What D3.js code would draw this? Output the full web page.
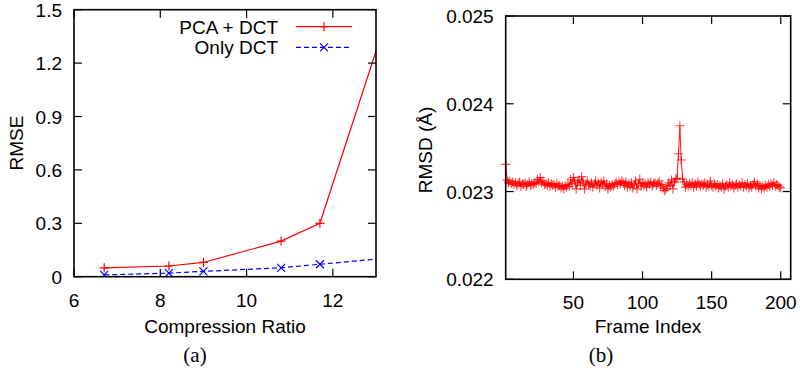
<!DOCTYPE html>
<html>
<head>
<meta charset="utf-8">
<script src="https://cdn.jsdelivr.net/npm/d3@7"></script>
<style>
  body { margin: 0; background: #fff; }
  text { font-family: "Liberation Sans", Arial, sans-serif; }
</style>
</head>
<body>
<svg width="800" height="377"></svg>
<script>
// ---- data (a) ----
var ratio = [6.7, 8.2, 9.0, 10.8, 11.7, 13.3];
var pcaDct = [0.05, 0.06, 0.08, 0.2, 0.3, 1.49];
var onlyDct = [0.01, 0.02, 0.03, 0.05, 0.07, 0.105];
var ticksA_x = [6, 8, 10, 12];
var ticksA_y = [0, 0.3, 0.6, 0.9, 1.2, 1.5];

// ---- data (b) ---- frames 1..200
var rmsd = [
  0.02331,
  0.02313, 0.02310, 0.02312, 0.02309, 0.02311, 0.02308, 0.02310, 0.02307, 0.02309,
  0.02311, 0.02306, 0.02309, 0.02308, 0.02310, 0.02306, 0.02308, 0.02311, 0.02307, 0.02309,
  0.02308, 0.02310, 0.02309, 0.02314, 0.02311, 0.02316, 0.02310, 0.02312, 0.02308, 0.02309,
  0.02307, 0.02310, 0.02306, 0.02309, 0.02307, 0.02308, 0.02305, 0.02309, 0.02306, 0.02307,
  0.02304, 0.02306, 0.02303, 0.02307, 0.02305, 0.02308, 0.02306, 0.02314, 0.02309, 0.02316,
  0.02312, 0.02303, 0.02310, 0.02313, 0.02307, 0.02317, 0.02311, 0.02303, 0.02309, 0.02312,
  0.02308, 0.02306, 0.02310, 0.02305, 0.02309, 0.02312, 0.02307, 0.02310, 0.02304, 0.02311,
  0.02308, 0.02312, 0.02306, 0.02309, 0.02303, 0.02307, 0.02305, 0.02308, 0.02306, 0.02309,
  0.02310, 0.02308, 0.02311, 0.02309, 0.02312, 0.02310, 0.02307, 0.02311, 0.02305, 0.02309,
  0.02306, 0.02310, 0.02304, 0.02308, 0.02312, 0.02303, 0.02309, 0.02314, 0.02306, 0.02310,
  0.02307, 0.02309, 0.02305, 0.02310, 0.02308, 0.02311, 0.02306, 0.02309, 0.02310, 0.02307,
  0.02309, 0.02312, 0.02306, 0.02308, 0.02304, 0.02301, 0.02303, 0.02306, 0.02310, 0.02307,
  0.02313, 0.02303, 0.02311, 0.02314, 0.02315,
  0.02343, 0.02375, 0.02336, 0.02314,
  0.02311, 0.02305, 0.02308, 0.02306, 0.02309, 0.02307, 0.02310, 0.02305, 0.02309, 0.02306, 0.02311,
  0.02308, 0.02306, 0.02309, 0.02307, 0.02310, 0.02305, 0.02308, 0.02306, 0.02312, 0.02307,
  0.02305, 0.02309, 0.02306, 0.02308, 0.02304, 0.02307, 0.02305, 0.02309, 0.02303, 0.02306,
  0.02308, 0.02305, 0.02310, 0.02306, 0.02308, 0.02304, 0.02307, 0.02309, 0.02305, 0.02308,
  0.02306, 0.02310, 0.02305, 0.02308, 0.02306, 0.02309, 0.02304, 0.02307, 0.02305, 0.02308,
  0.02311, 0.02306, 0.02309, 0.02304, 0.02307, 0.02303, 0.02306, 0.02304, 0.02307, 0.02305,
  0.02308, 0.02306, 0.02309, 0.02307, 0.02310, 0.02306, 0.02308, 0.02307, 0.02305, 0.02304
];
var ticksB_x = [50, 100, 150, 200];
var ticksB_y = [0.022, 0.023, 0.024, 0.025];

var svg = d3.select("svg");
var fs = 19;
var tick = 8;

var plus = "M-4.5,0H4.5M0,-4.5V4.5";
var cross = "M-4,-4L4,4M-4,4L4,-4";

// frame + mirrored ticks for one panel
function drawFrame(g, x, y, xt, yt, xfmt, yfmt) {
  var x0 = x.range()[0], x1 = x.range()[1];
  var y0 = y.range()[0], y1 = y.range()[1];

  xt.forEach(function(t) {
    g.append("line").attr("x1", x(t)).attr("x2", x(t)).attr("y1", y0).attr("y2", y0 - tick)
      .attr("stroke", "#000").attr("stroke-width", 1.2);
    g.append("line").attr("x1", x(t)).attr("x2", x(t)).attr("y1", y1).attr("y2", y1 + tick)
      .attr("stroke", "#000").attr("stroke-width", 1.2);
    g.append("text").attr("x", x(t)).attr("y", y0 + 30)
      .attr("text-anchor", "middle").style("font-size", fs + "px").text(xfmt(t));
  });
  yt.forEach(function(t) {
    g.append("line").attr("x1", x0).attr("x2", x0 + tick).attr("y1", y(t)).attr("y2", y(t))
      .attr("stroke", "#000").attr("stroke-width", 1.2);
    g.append("line").attr("x1", x1).attr("x2", x1 - tick).attr("y1", y(t)).attr("y2", y(t))
      .attr("stroke", "#000").attr("stroke-width", 1.2);
    g.append("text").attr("x", x0 - 12).attr("y", y(t) + 7)
      .attr("text-anchor", "end").style("font-size", fs + "px").text(yfmt(t));
  });

  g.append("rect")
    .attr("x", x0).attr("y", y1)
    .attr("width", x1 - x0).attr("height", y0 - y1)
    .attr("fill", "none").attr("stroke", "#000").attr("stroke-width", 1.6);
}

/////////////////////////////////////////// panel (a)
var xa = d3.scaleLinear().domain([6, 13]).range([74, 376]);
var ya = d3.scaleLinear().domain([0, 1.5]).range([276.7, 9.7]);

var ga = svg.append("g");

svg.append("clipPath").attr("id", "clipA")
  .append("rect").attr("x", 74).attr("y", 9.7).attr("width", 302).attr("height", 267);

var lineA = d3.line()
  .x(function(d, i) { return xa(ratio[i]); })
  .y(function(d) { return ya(d); });

var plotA = ga.append("g").attr("clip-path", "url(#clipA)");

plotA.append("path").attr("d", lineA(onlyDct))
  .attr("fill", "none").attr("stroke", "#0000ff").attr("stroke-width", 1.2)
  .attr("stroke-dasharray", "5,3");
plotA.selectAll(".mb").data(onlyDct).enter().append("path")
  .attr("transform", function(d, i) { return "translate(" + xa(ratio[i]) + "," + ya(d) + ")"; })
  .attr("d", cross).attr("stroke", "#0000ff").attr("stroke-width", 1.2);

plotA.append("path").attr("d", lineA(pcaDct))
  .attr("fill", "none").attr("stroke", "#ff0000").attr("stroke-width", 1.2);
plotA.selectAll(".mr").data(pcaDct).enter().append("path")
  .attr("transform", function(d, i) { return "translate(" + xa(ratio[i]) + "," + ya(d) + ")"; })
  .attr("d", plus).attr("stroke", "#ff0000").attr("stroke-width", 1.2);

drawFrame(ga, xa, ya, ticksA_x, ticksA_y, d3.format("d"),
  function(t) { return t === 0 ? "0" : d3.format(".1f")(t); });

// legend
var leg = ga.append("g");
leg.append("text").attr("x", 278).attr("y", 33.5).attr("text-anchor", "end")
  .style("font-size", fs + "px").text("PCA + DCT");
leg.append("line").attr("x1", 296).attr("x2", 352).attr("y1", 26.7).attr("y2", 26.7)
  .attr("stroke", "#ff0000").attr("stroke-width", 1.2);
leg.append("path").attr("transform", "translate(324,26.7)").attr("d", plus)
  .attr("stroke", "#ff0000").attr("stroke-width", 1.2);

leg.append("text").attr("x", 278).attr("y", 54).attr("text-anchor", "end")
  .style("font-size", fs + "px").text("Only DCT");
leg.append("line").attr("x1", 296).attr("x2", 352).attr("y1", 47.3).attr("y2", 47.3)
  .attr("stroke", "#0000ff").attr("stroke-width", 1.2).attr("stroke-dasharray", "5,3");
leg.append("path").attr("transform", "translate(324,47.3)").attr("d", cross)
  .attr("stroke", "#0000ff").attr("stroke-width", 1.2);

// axis titles
ga.append("text").attr("transform", "translate(23,143) rotate(-90)")
  .attr("text-anchor", "middle").style("font-size", fs + "px").text("RMSE");
ga.append("text").attr("x", 225).attr("y", 333)
  .attr("text-anchor", "middle").style("font-size", fs + "px").text("Compression Ratio");
ga.append("text").attr("x", 195).attr("y", 362)
  .attr("text-anchor", "middle").style("font-family", "'Liberation Serif', serif")
  .style("font-size", "21px").text("(a)");

/////////////////////////////////////////// panel (b)
var xb = d3.scaleLinear().domain([1, 207.2]).range([505.7, 790.7]);
var yb = d3.scaleLinear().domain([0.022, 0.025]).range([279.3, 16]);

var gb = svg.append("g");

var lineB = d3.line()
  .x(function(d, i) { return xb(i + 1); })
  .y(function(d) { return yb(d); });

gb.append("path").attr("d", lineB(rmsd))
  .attr("fill", "none").attr("stroke", "#ff0000").attr("stroke-width", 1.1)
  .attr("stroke-opacity", 0.85);
gb.selectAll(".mk").data(rmsd).enter().append("path")
  .attr("transform", function(d, i) { return "translate(" + xb(i + 1) + "," + yb(d) + ")"; })
  .attr("d", plus).attr("stroke", "#ff0000").attr("stroke-width", 1.1)
  .attr("stroke-opacity", 0.75);

drawFrame(gb, xb, yb, ticksB_x, ticksB_y, d3.format("d"), d3.format(".3f"));

gb.append("text").attr("transform", "translate(432,150) rotate(-90)")
  .attr("text-anchor", "middle").style("font-size", fs + "px").text("RMSD (Å)");
gb.append("text").attr("x", 648).attr("y", 333)
  .attr("text-anchor", "middle").style("font-size", fs + "px").text("Frame Index");
gb.append("text").attr("x", 601).attr("y", 362)
  .attr("text-anchor", "middle").style("font-family", "'Liberation Serif', serif")
  .style("font-size", "21px").text("(b)");
</script>
</body>
</html>
